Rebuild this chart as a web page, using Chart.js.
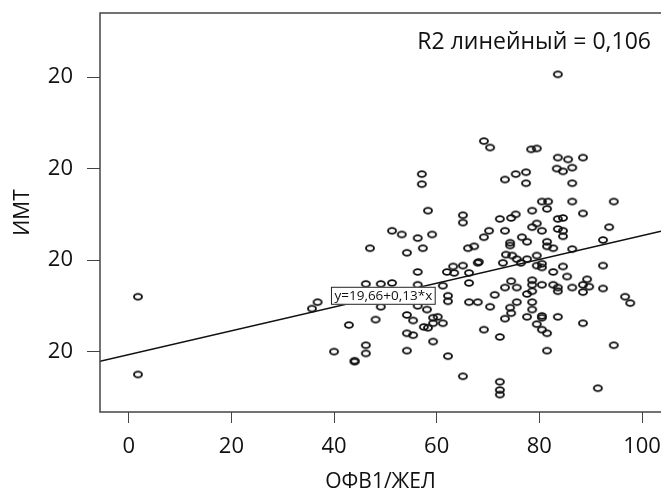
<!DOCTYPE html>
<html>
<head>
<meta charset="utf-8">
<script src="https://cdn.jsdelivr.net/npm/chart.js@4.4.1/dist/chart.umd.min.js"></script>
<style>
  html, body { margin: 0; padding: 0; background: #fff; }
  #wrap { width: 661px; height: 492px; }
</style>
</head>
<body>
<div id="wrap"><canvas id="chart" width="661" height="492"></canvas></div>
<script>
// ОФВ1/ЖЕЛ (x) and ИМТ (y) for each patient
var ofvValues = [
    1.8, 1.8, 35.7, 36.8, 40.0, 42.9, 46.2, 46.2, 44.0, 44.0,
    48.1, 49.1, 46.2, 49.1, 51.3, 47.0, 51.3, 53.2, 56.3, 59.1,
    54.2, 57.3, 58.3, 57.1, 57.1, 65.1, 65.1, 66.1, 67.3, 56.3,
    62.0, 63.2, 65.1, 63.4, 66.3, 66.3, 56.3, 61.2, 62.2, 62.2,
    66.3, 68.0, 68.0, 69.2, 70.4, 78.4, 79.5, 83.6, 83.6, 85.6,
    88.5, 83.4, 84.6, 86.4, 73.3, 75.4, 77.4, 77.4, 86.4, 80.5,
    81.7, 81.5, 86.4, 94.5, 78.6, 88.5, 72.3, 74.5, 75.4, 83.6,
    84.6, 70.2, 73.3, 78.6, 79.5, 80.5, 83.6, 84.6, 84.6, 93.6,
    69.2, 74.3, 74.3, 76.6, 77.6, 81.5, 81.5, 82.7, 92.4, 86.4,
    68.2, 73.5, 74.7, 72.9, 75.6, 76.4, 77.6, 79.5, 79.5, 80.5,
    80.5, 84.6, 92.4, 82.7, 85.4, 74.5, 78.6, 78.6, 80.5, 82.7,
    83.6, 73.3, 75.6, 86.4, 88.5, 89.3, 89.7, 92.4, 78.6, 77.6,
    83.6, 88.5, 71.3, 96.7, 97.7, 75.6, 78.6, 56.3, 58.1, 54.2,
    55.4, 59.3, 60.2, 59.3, 61.2, 57.5, 58.3, 54.2, 55.4, 59.3,
    54.2, 62.2, 65.1, 70.4, 74.3, 78.6, 74.5, 73.3, 77.6, 80.5,
    80.5, 79.5, 83.6, 88.5, 69.2, 72.3, 80.5, 81.5, 81.5, 94.5,
    72.3, 72.3, 72.3, 91.4
];
var imtValues = [
    26.0, 17.5, 24.7, 25.4, 20.0, 22.9, 20.7, 19.8, 19.0, 18.9,
    23.5, 24.9, 27.4, 27.4, 27.5, 31.3, 33.2, 32.8, 32.4, 32.8,
    30.8, 31.3, 35.4, 39.4, 38.3, 34.9, 34.1, 31.3, 31.5, 28.7,
    28.7, 29.3, 29.4, 28.6, 28.6, 27.5, 27.3, 27.2, 26.1, 25.5,
    25.4, 25.4, 29.7, 43.0, 42.3, 42.1, 42.2, 50.3, 41.2, 41.0,
    41.2, 40.0, 39.7, 40.1, 38.8, 39.4, 39.6, 38.4, 38.4, 36.4,
    36.4, 35.6, 36.4, 36.4, 35.4, 35.1, 34.5, 34.6, 35.0, 34.5,
    34.6, 33.2, 33.2, 33.6, 34.0, 33.2, 33.4, 33.2, 32.6, 33.6,
    32.5, 31.9, 31.6, 32.5, 32.0, 32.0, 31.5, 31.3, 32.2, 31.2,
    29.8, 30.6, 30.5, 29.7, 30.1, 29.7, 30.1, 30.5, 29.4, 29.6,
    29.2, 29.3, 29.4, 28.7, 28.2, 27.7, 27.8, 27.3, 27.3, 27.3,
    27.0, 27.0, 27.0, 27.0, 27.3, 27.9, 27.1, 26.9, 26.6, 26.3,
    26.6, 26.5, 26.2, 26.0, 25.3, 25.4, 25.4, 25.0, 24.6, 24.0,
    23.4, 23.7, 23.8, 23.1, 23.1, 22.7, 22.6, 22.0, 21.8, 21.1,
    20.1, 19.5, 17.3, 24.9, 24.8, 24.6, 24.2, 23.6, 23.8, 23.7,
    23.9, 23.0, 23.8, 23.1, 22.4, 21.6, 22.4, 22.0, 20.1, 20.7,
    16.7, 15.8, 15.3, 16.0
];

// y axis: real positions 20..50, but the source prints "20" on every tick
var yTickValues = [20, 30, 40, 50];
var yTickLabels = ['20', '20', '20', '20'];
var xTickValues = [0, 20, 40, 60, 80, 100];

// linear fit printed on the chart: y=19,66+0,13*x
var fitIntercept = 19.66;
var fitSlope = 0.13;
var fitLabel = 'y=19,66+0,13*x';
var r2Label = 'R2 линейный = 0,106';

var X_MIN = -5.6, X_MAX = 103.7, Y_MIN = 13.4, Y_MAX = 57.0;
var FONT = '"Open Sans", "Noto Sans", sans-serif';

// open oval marker like the SPSS one
function ovalMarker() {
    var c = document.createElement('canvas');
    c.width = 12; c.height = 10;
    var g = c.getContext('2d');
    g.strokeStyle = '#111';
    g.lineWidth = 1.9;
    g.beginPath();
    g.ellipse(6, 5, 4.0, 2.9, 0, 0, Math.PI * 2);
    g.stroke();
    return c;
}

var points = ofvValues.map(function (x, i) { return { x: x, y: imtValues[i] }; });
var fitLine = [X_MIN, X_MAX].map(function (x) { return { x: x, y: fitIntercept + fitSlope * x }; });

// no extra room for half-labels at the ends of the axes
function noEdgePadding(axis) {
    axis.paddingLeft = 0;
    axis.paddingRight = 0;
    axis.paddingTop = 0;
    axis.paddingBottom = 0;
}

// frame (left, top, bottom) plus the two text boxes
var decorations = {
    id: 'decorations',
    afterDatasetsDraw: function (chart) {
        var ctx = chart.ctx, a = chart.chartArea;
        var xs = chart.scales.x, ys = chart.scales.y;
        ctx.save();
        ctx.strokeStyle = '#444';
        ctx.lineWidth = 1.5;
        ctx.beginPath();
        ctx.moveTo(chart.width + 2, a.top);
        ctx.lineTo(a.left, a.top);
        ctx.lineTo(a.left, a.bottom);
        ctx.lineTo(chart.width + 2, a.bottom);
        ctx.stroke();

        ctx.fillStyle = '#111';
        ctx.font = '23px ' + FONT;
        ctx.textAlign = 'right';
        ctx.textBaseline = 'middle';
        ctx.fillText(r2Label, a.right - 10, a.top + 29);

        // equation box sitting on the fit line
        ctx.font = '13.5px ' + FONT;
        var w = ctx.measureText(fitLabel).width + 6;
        var bx = xs.getPixelForValue(39.4);
        var by = ys.getPixelForValue(26.1);
        ctx.fillStyle = '#fff';
        ctx.fillRect(bx, by - 9, w, 18);
        ctx.strokeStyle = '#222';
        ctx.lineWidth = 1;
        ctx.strokeRect(bx + 0.5, by - 8.5, w, 17);
        ctx.fillStyle = '#111';
        ctx.textAlign = 'left';
        ctx.fillText(fitLabel, bx + 3.5, by + 0.5);
        ctx.restore();
    }
};

new Chart(document.getElementById('chart'), {
    type: 'scatter',
    data: {
        datasets: [{
            type: 'line',
            data: fitLine,
            borderColor: '#111',
            borderWidth: 1.5,
            pointRadius: 0,
            fill: false,
            order: 2
        }, {
            data: points,
            pointStyle: ovalMarker(),
            pointRadius: 4,
            order: 1
        }]
    },
    options: {
        responsive: false,
        animation: false,
        events: [],
        layout: { autoPadding: false, padding: { top: 13, right: 0, left: 0, bottom: 0 } },
        plugins: { legend: { display: false }, tooltip: { enabled: false } },
        scales: {
            x: {
                type: 'linear',
                min: X_MIN,
                max: X_MAX,
                afterBuildTicks: function (axis) {
                    axis.ticks = xTickValues.map(function (v) { return { value: v }; });
                },
                afterFit: function (axis) { axis.height = 80; noEdgePadding(axis); },
                grid: { drawOnChartArea: false, drawTicks: true, tickLength: 11, color: '#444', lineWidth: 1 },
                border: { display: false },
                ticks: { color: '#111', font: { family: FONT, size: 22 }, padding: 11, maxRotation: 0 },
                title: { display: true, text: 'ОФВ1/ЖЕЛ', color: '#111', font: { family: FONT, size: 21 }, padding: { top: 0, bottom: -3 } }
            },
            y: {
                type: 'linear',
                min: Y_MIN,
                max: Y_MAX,
                afterBuildTicks: function (axis) {
                    axis.ticks = yTickValues.map(function (v) { return { value: v }; });
                },
                afterFit: function (axis) { axis.width = 100; noEdgePadding(axis); },
                grid: { drawOnChartArea: false, drawTicks: true, tickLength: 13, color: '#444', lineWidth: 1 },
                border: { display: false },
                ticks: {
                    color: '#111',
                    font: { family: FONT, size: 22 },
                    padding: 14,
                    callback: function (v) {
                        var i = yTickValues.indexOf(v);
                        return i >= 0 ? yTickLabels[i] : '';
                    }
                },
                title: { display: true, text: 'ИМТ', color: '#111', font: { family: FONT, size: 21 }, padding: { top: 10, bottom: 0 } }
            }
        }
    },
    plugins: [decorations]
});
</script>
</body>
</html>
